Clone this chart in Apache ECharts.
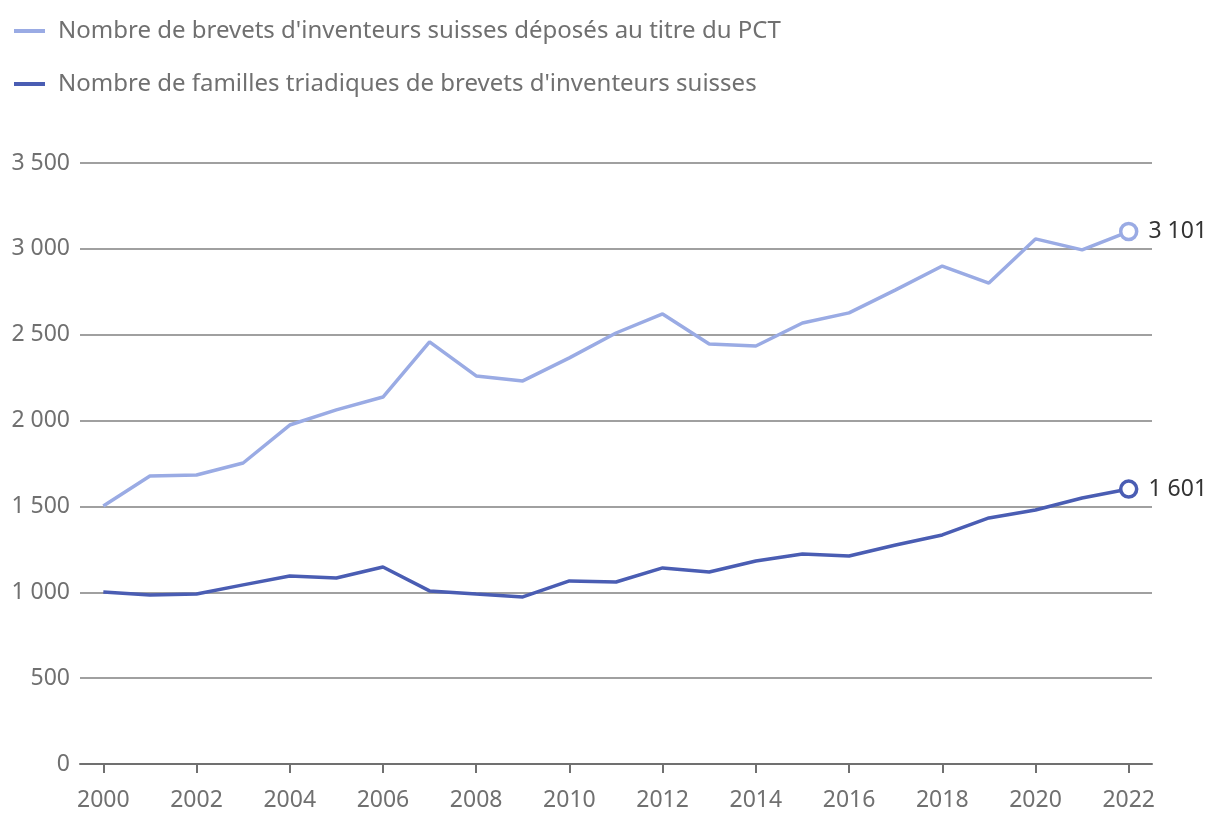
<!DOCTYPE html>
<html>
<head>
<meta charset="utf-8">
<script src="https://cdn.jsdelivr.net/npm/echarts@6/dist/echarts.min.js"></script>
<style>
  html, body { margin: 0; padding: 0; background: #fff; }
  #chart { width: 1220px; height: 830px; }
</style>
</head>
<body>
<div id="chart"></div>
<script>
const years = ['2000', '2001', '2002', '2003', '2004', '2005', '2006', '2007', '2008', '2009', '2010',
    '2011', '2012', '2013', '2014', '2015', '2016', '2017', '2018', '2019', '2020', '2021', '2022'];
// brevets PCT
const pct = [1503, 1677, 1683, 1753, 1974, 2062, 2137, 2458, 2260, 2231, 2365,
    2510, 2621, 2446, 2434, 2568, 2627, 2761, 2900, 2801, 3058, 2994, 3101];
// familles triadiques
const triad = [1002, 984, 990, 1043, 1095, 1083, 1147, 1008, 990, 973, 1066,
    1060, 1142, 1118, 1182, 1223, 1211, 1275, 1334, 1433, 1479, 1549, 1601];
const names = [
    "Nombre de brevets d'inventeurs suisses déposés au titre du PCT",
    "Nombre de familles triadiques de brevets d'inventeurs suisses"
];
const colors = ['#9aabe4', '#4a5db3'];

const fmt = v => String(v).replace(/\B(?=(\d{3})+(?!\d))/g, ' ');

function makeSeries(name, data, color) {
    const last = data.length - 1;
    return {
        name: name,
        type: 'line',
        data: data.map((v, i) => i === last ? {
            value: v,
            symbol: 'circle',
            symbolSize: 16,
            itemStyle: { color: '#fff', borderColor: color, borderWidth: 3.5 },
            label: {
                show: true, position: 'right', distance: 10,
                formatter: p => fmt(p.value),
                color: '#333', fontSize: 23, fontFamily: 'Noto Sans'
            }
        } : v),
        showSymbol: true,
        symbol: 'none',
        lineStyle: { color: color, width: 3.5 },
        itemStyle: { color: color },
        emphasis: { disabled: true },
        z: 3
    };
}

const chart = echarts.init(document.getElementById('chart'));
chart.setOption({
    animation: false,
    textStyle: { fontFamily: 'Noto Sans' },
    color: colors,
    legend: {
        orient: 'vertical',
        left: 9,
        top: 14,
        itemGap: 29,
        itemWidth: 31,
        itemHeight: 4,
        icon: 'rect',
        textStyle: { color: '#707070', fontSize: 24, padding: [0, 0, 0, 8] },
        data: names.map((n, i) => ({ name: n, itemStyle: { color: colors[i] } }))
    },
    grid: { left: 80, right: 68, top: 163, bottom: 66 },
    xAxis: {
        type: 'category',
        data: years,
        boundaryGap: true,
        axisLine: { lineStyle: { color: '#707070', width: 2 } },
        axisTick: { show: true, alignWithLabel: true, interval: 1, length: 9, lineStyle: { color: '#707070', width: 2 } },
        axisLabel: { interval: 1, color: '#707070', fontSize: 23, margin: 25 }
    },
    yAxis: {
        type: 'value',
        min: 0,
        max: 3500,
        interval: 500,
        axisLine: { show: false },
        axisTick: { show: false },
        axisLabel: { color: '#707070', fontSize: 23, margin: 10, formatter: fmt },
        splitLine: { lineStyle: { color: '#808080', width: 1.5 } }
    },
    series: [
        makeSeries(names[0], pct, colors[0]),
        makeSeries(names[1], triad, colors[1])
    ]
});
</script>
</body>
</html>
